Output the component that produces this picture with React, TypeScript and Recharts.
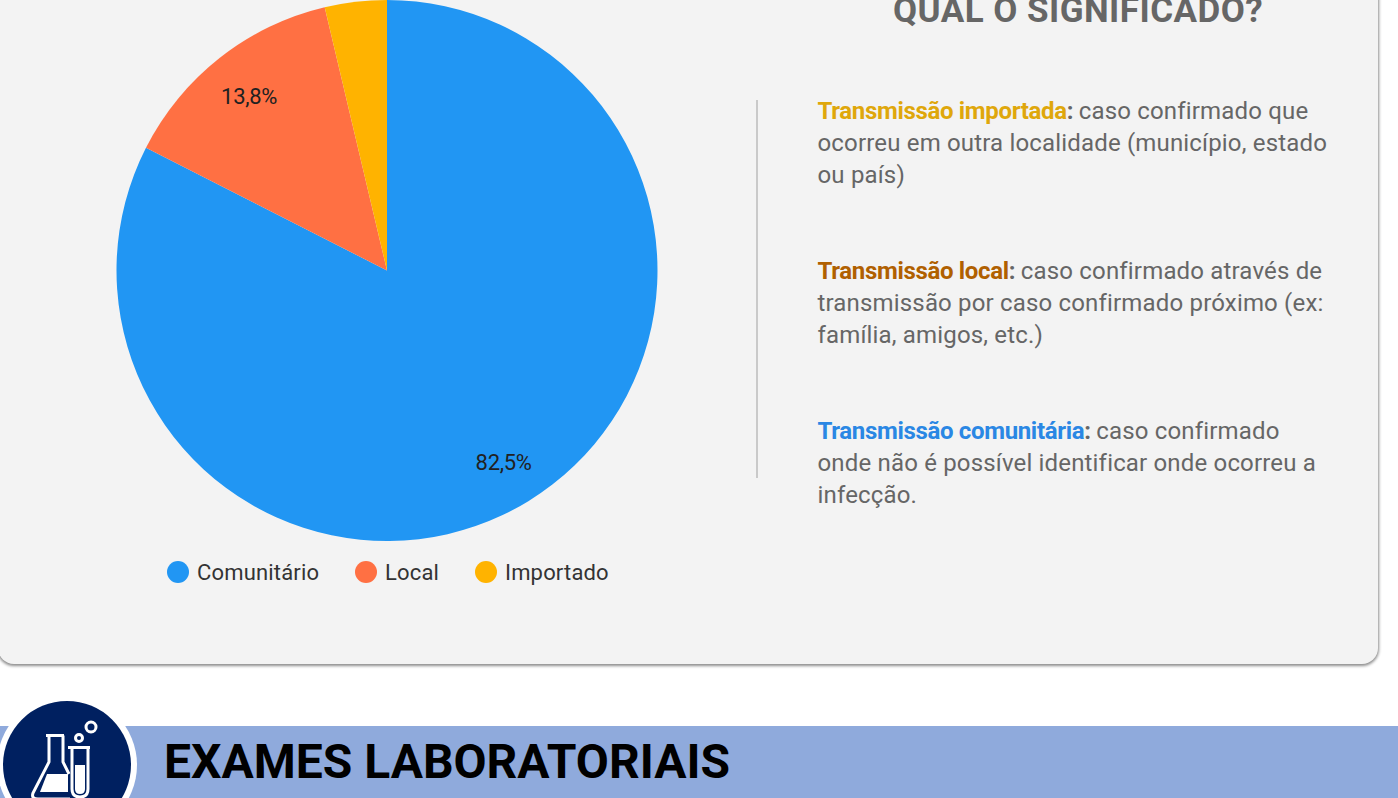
import { PieChart, Pie, Cell, Legend } from "recharts";

const categories = ["Comunitário", "Local", "Importado"];
const values = [82.5, 13.8, 3.7];
const colors = ["#2196f3", "#ff7043", "#ffb300"];
const labelled = ["82,5%", "13,8%", ""];

const data = categories.map((name, i) => ({ name, value: values[i], text: labelled[i] }));

const FONT = "Roboto, sans-serif";

const notes = [
  {
    top: 95,
    head: "Transmissão importada",
    color: "#dfa70b",
    lines: ["caso confirmado que", "ocorreu em outra localidade (município, estado", "ou país)"],
  },
  {
    top: 255,
    head: "Transmissão local",
    color: "#b06000",
    lines: ["caso confirmado através de", "transmissão por caso confirmado próximo (ex:", "família, amigos, etc.)"],
  },
  {
    top: 415,
    head: "Transmissão comunitária",
    color: "#2a87e4",
    lines: ["caso confirmado", "onde não é possível identificar onde ocorreu a", "infecção."],
  },
];

const RAD = Math.PI / 180;

function sliceLabel(p: any) {
  if (!p.text) return null;
  const r = p.outerRadius * 0.825;
  const x = p.cx + r * Math.cos(-p.midAngle * RAD);
  const y = p.cy + r * Math.sin(-p.midAngle * RAD) + 1.5;
  return (
    <text x={x} y={y} fill="#212121" fontSize={22} letterSpacing={-0.3} fontFamily={FONT} textAnchor="middle" dominantBaseline="central">
      {p.text}
    </text>
  );
}

function LegendRow() {
  const spots = [167, 355, 475];
  return (
    <div style={{ position: "relative", height: 30, fontFamily: FONT, fontSize: 22, letterSpacing: 0.17, color: "#333" }}>
      {categories.map((c, i) => (
        <div key={c} style={{ position: "absolute", left: spots[i], top: 0, display: "flex", alignItems: "center", height: 30, whiteSpace: "nowrap" }}>
          <span style={{ width: 22, height: 22, borderRadius: 11, background: colors[i], marginRight: 8 }} />
          {c}
        </div>
      ))}
    </div>
  );
}

function LabIcon() {
  return (
    <svg width={140} height={98} viewBox="0 0 140 98" style={{ position: "absolute", left: 0, top: 700 }}>
      <circle cx={67} cy={65} r={70} fill="#fff" />
      <circle cx={67} cy={65} r={64} fill="#002060" />
      <g fill="none" stroke="#fff" strokeWidth={3}>
        <circle cx={91} cy={27} r={5} />
        <circle cx={79} cy={38} r={3.5} />
        <path d="M46 35.5 H64 M49 35.5 V62 L33 93 Q31 99 38 99 H70 M63 35.5 V62 L69 74" />
        <path d="M68 47.5 H90 M72 47.5 V89 Q72 97 80 97 Q88 97 88 89 V47.5" />
      </g>
      <path d="M47 74 H68 V92 H40 Z" fill="#fff" />
      <path d="M75 65 H85 V89 Q85 94 80 94 Q75 94 75 89 Z" fill="#fff" />
    </svg>
  );
}

export default function App() {
  return (
    <div style={{ position: "fixed", left: 0, top: 0, width: 1398, height: 798, overflow: "hidden", background: "#fff", fontFamily: FONT }}>
      <div style={{ position: "absolute", left: -2, top: -40, width: 1380, height: 704, background: "#f3f3f3", borderRadius: 16, boxShadow: "0 1px 3px 1px rgba(0,0,0,0.45)" }} />

      <div style={{ position: "absolute", left: 0, top: 0 }}>
        <PieChart width={775} height={620} margin={{ top: 0, right: 0, bottom: 0, left: 0 }}>
          <Pie
            data={data}
            dataKey="value"
            nameKey="name"
            cx={387}
            cy={270.5}
            outerRadius={270.5}
            startAngle={90}
            endAngle={-270}
            stroke="none"
            label={sliceLabel}
            labelLine={false}
            isAnimationActive={false}
          >
            {data.map((d, i) => (
              <Cell key={d.name} fill={colors[i]} />
            ))}
          </Pie>
          <Legend content={<LegendRow />} wrapperStyle={{ left: 0, top: 557, width: 775 }} />
        </PieChart>
      </div>

      <div style={{ position: "absolute", left: 756, top: 100, width: 2, height: 378, background: "#c9c9c9" }} />
      <div style={{ position: "absolute", left: 893, top: -9, fontSize: 35, lineHeight: "40px", letterSpacing: 0.45, fontWeight: 700, color: "#666", whiteSpace: "nowrap" }}>
        QUAL O SIGNIFICADO?
      </div>

      {notes.map((n) => (
        <div key={n.head} style={{ position: "absolute", left: 817.5, top: n.top, fontSize: 24, lineHeight: "32px", letterSpacing: 0.17, color: "#666", whiteSpace: "nowrap" }}>
          {n.lines.map((l, i) =>
            i === 0 ? (
              <div key={l}>
                <b style={{ color: n.color, letterSpacing: -0.33 }}>{n.head}</b>
                <b style={{ letterSpacing: -0.33 }}>: </b>
                {l}
              </div>
            ) : (
              <div key={l}>{l}</div>
            )
          )}
        </div>
      ))}

      <div style={{ position: "absolute", left: 0, top: 726, width: 1398, height: 72, background: "#8faadc" }} />
      <LabIcon />
      <div style={{ position: "absolute", left: 164, top: 734, fontSize: 48, lineHeight: "56px", fontWeight: 700, color: "#000", whiteSpace: "nowrap" }}>
        EXAMES LABORATORIAIS
      </div>
    </div>
  );
}
